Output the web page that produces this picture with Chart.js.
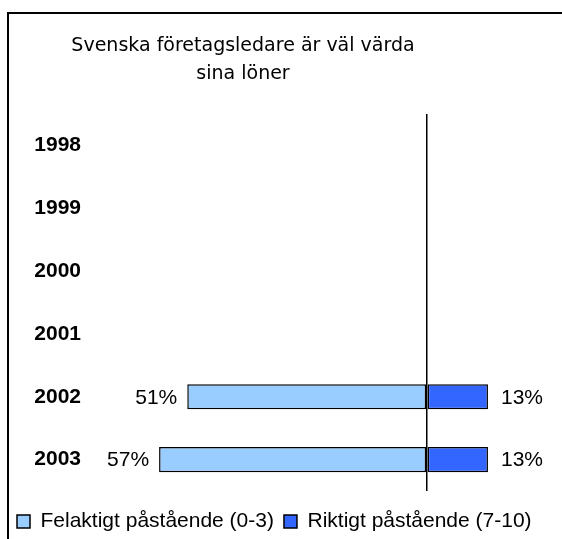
<!DOCTYPE html>
<html>
<head>
<meta charset="utf-8">
<script src="https://cdn.jsdelivr.net/npm/chart.js@4"></script>
<style>
    body { margin: 0; background: #fff; }
    #wrap { position: relative; width: 562px; height: 539px; overflow: hidden; }
    #frame { position: absolute; left: 7px; top: 12px; width: 600px; height: 600px; border: 2px solid #000; }
    #chart { position: absolute; left: 0; top: 0; }
</style>
</head>
<body>
<div id="wrap">
    <div id="frame"></div>
    <canvas id="chart" width="562" height="542"></canvas>
</div>
<script>
// Chart data
const titleLines = ['Svenska företagsledare är väl värda', 'sina löner'];
const years = ['1998', '1999', '2000', '2001', '2002', '2003'];
const felaktigt = [null, null, null, null, 51, 57];   // Felaktigt påstående (0-3), drawn to the left
const riktigt = [null, null, null, null, 13, 13];     // Riktigt påstående (7-10), drawn to the right
const seriesNames = ['Felaktigt påstående (0-3)', 'Riktigt påstående (7-10)'];

const labelFont = '21px "Liberation Sans", Arial, sans-serif';

// Title drawn centred over the plot box (not the whole canvas)
const titlePlugin = {
    id: 'twoLineTitle',
    afterDraw(chart) {
        const ctx = chart.ctx;
        ctx.save();
        ctx.fillStyle = '#000';
        ctx.font = '19px "DejaVu Sans", sans-serif';
        ctx.textAlign = 'center';
        ctx.textBaseline = 'alphabetic';
        titleLines.forEach((line, i) => ctx.fillText(line, 243, 51 + i * 28));
        ctx.restore();
    }
};

// Percent labels at the ends of the bars
const valueLabels = {
    id: 'valueLabels',
    afterDatasetsDraw(chart) {
        const ctx = chart.ctx;
        ctx.save();
        ctx.fillStyle = '#000';
        ctx.font = labelFont;
        ctx.textBaseline = 'middle';
        chart.data.datasets.forEach((ds, di) => {
            const meta = chart.getDatasetMeta(di);
            meta.data.forEach((bar, i) => {
                const v = ds.data[i];
                if (v === null) return;
                const text = Math.abs(v) + '%';
                if (v < 0) {
                    ctx.textAlign = 'right';
                    ctx.fillText(text, bar.x - 10, bar.y + 1);
                } else {
                    ctx.textAlign = 'left';
                    ctx.fillText(text, bar.x + 13, bar.y + 1);
                }
            });
        });
        ctx.restore();
    }
};

const ctx = document.getElementById('chart').getContext('2d');
new Chart(ctx, {
    type: 'bar',
    data: {
        labels: years,
        datasets: [
            {
                label: seriesNames[0],
                data: felaktigt.map(v => v === null ? null : -v),
                backgroundColor: '#99CCFF',
                borderColor: '#000',
                borderWidth: 1.5,
                borderSkipped: false,
                barPercentage: 0.4,
                categoryPercentage: 1
            },
            {
                label: seriesNames[1],
                data: riktigt,
                backgroundColor: '#3366FF',
                borderColor: '#000',
                borderWidth: 1.5,
                borderSkipped: false,
                barPercentage: 0.4,
                categoryPercentage: 1
            }
        ]
    },
    options: {
        indexAxis: 'y',
        responsive: false,
        animation: false,
        layout: { padding: { top: 114, left: 7, right: 20, bottom: 0 } },
        scales: {
            x: {
                stacked: true,
                min: -70,
                max: 24.5,
                ticks: { display: false },
                border: { display: false },
                grid: {
                    drawTicks: true,
                    tickLength: 10,
                    tickColor: 'transparent',
                    color: (c) => c.tick && c.tick.value === 0 ? '#000' : 'transparent',
                    lineWidth: 1.5
                }
            },
            y: {
                stacked: true,
                grid: { display: false },
                border: { display: false },
                afterFit: (scale) => { scale.width = 91; },
                ticks: {
                    padding: 9,
                    color: '#000',
                    font: { family: '"Liberation Sans", Arial, sans-serif', size: 21, weight: 'bold' }
                }
            }
        },
        plugins: {
            title: { display: false },
            tooltip: { enabled: false },
            legend: {
                position: 'bottom',
                align: 'start',
                labels: {
                    boxWidth: 13,
                    boxHeight: 13,
                    padding: 10,
                    color: '#000',
                    font: { family: '"Liberation Sans", Arial, sans-serif', size: 21 }
                }
            }
        }
    },
    plugins: [titlePlugin, valueLabels]
});
</script>
</body>
</html>
